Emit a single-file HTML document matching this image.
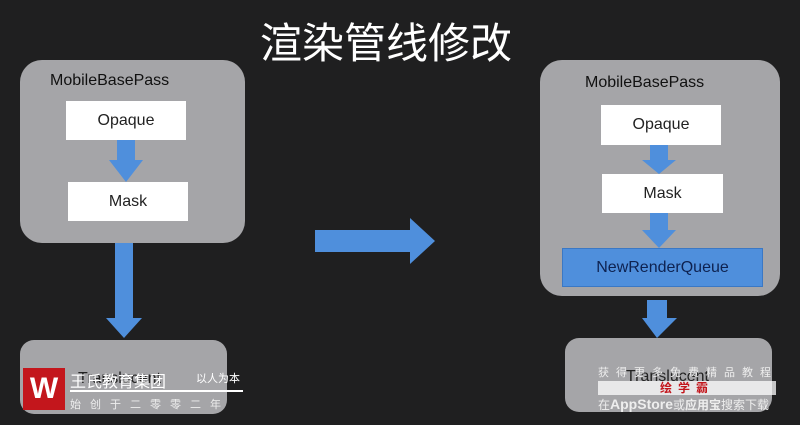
<!DOCTYPE html>
<html><head><meta charset="utf-8"><style>
body{margin:0;width:800px;height:425px;background:#1f1f20;position:relative;overflow:hidden;font-family:"Liberation Sans","Noto Sans CJK SC",sans-serif}
.a{position:absolute;box-sizing:border-box}
.grp{background:#a5a5a8;border-radius:22px}
.w{background:#fff;color:#222;font-size:16px;display:flex;align-items:center;justify-content:center}
.lbl{font-size:16px;color:#111}
</style></head><body>
<div class="a" style="left:260px;top:10px;color:#fff;font-size:42px;font-family:'Noto Sans CJK SC',sans-serif;white-space:nowrap">渲染管线修改</div>

<div class="a grp" style="left:20px;top:60px;width:225px;height:183px"></div>
<div class="a lbl" style="left:50px;top:72px">MobileBasePass</div>
<div class="a w" style="left:66px;top:101px;width:120px;height:39px">Opaque</div>
<div class="a w" style="left:68px;top:182px;width:120px;height:39px">Mask</div>

<div class="a grp" style="left:20px;top:340px;width:207px;height:74px;border-radius:14px"></div>
<div class="a lbl" style="left:78px;top:370px;color:#222">Translucent</div>

<div class="a grp" style="left:540px;top:60px;width:240px;height:236px"></div>
<div class="a lbl" style="left:585px;top:74px">MobileBasePass</div>
<div class="a w" style="left:601px;top:105px;width:120px;height:40px">Opaque</div>
<div class="a w" style="left:602px;top:174px;width:121px;height:39px">Mask</div>
<div class="a" style="left:562px;top:248px;width:201px;height:39px;background:#4f8fdc;border:1px solid #3a78c5;color:#0e2250;font-size:16px;display:flex;align-items:center;justify-content:center">NewRenderQueue</div>

<div class="a grp" style="left:565px;top:338px;width:207px;height:74px;border-radius:14px"></div>
<div class="a lbl" style="left:626px;top:368px;color:#222">Translucent</div>

<svg class="a" style="left:0;top:0" width="800" height="425">
<g fill="#4f8fdc">
<polygon points="117,140 135,140 135,160 143,160 126,182 109,160 117,160"/>
<polygon points="115,243 133,243 133,318 142,318 124,338 106,318 115,318"/>
<polygon points="315,230 410,230 410,218 435,241 410,264 410,252 315,252"/>
<polygon points="650,145 668,145 668,160 676,160 659,174 642,160 650,160"/>
<polygon points="650,213 668,213 668,230 676,230 659,248 642,230 650,230"/>
<polygon points="647,300 667,300 667,318 677,318 657,338 642,318 647,318"/>
</g>
</svg>

<div class="a" style="left:23px;top:368px;width:42px;height:42px;background:#c3161c;color:#fff;font-weight:bold;font-size:30px;display:flex;align-items:center;justify-content:center">W</div>
<div class="a" style="left:70px;top:368px;color:#fff;font-size:16px">王氏教育集团</div>
<div class="a" style="left:196px;top:370px;color:#fff;font-size:11px">以人为本</div>
<div class="a" style="left:70px;top:390px;width:173px;height:2px;background:#fff"></div>
<div class="a" style="left:70px;top:396px;color:#eee;font-size:11px;letter-spacing:9px">始创于二零零二年</div>

<div class="a" style="left:598px;top:364px;color:#eee;font-size:11px;letter-spacing:7px">获得更多免费精品教程</div>
<div class="a" style="left:598px;top:381px;width:178px;height:14px;background:rgba(255,255,255,.75);color:#c3161c;font-size:12px;font-weight:bold;text-align:center;letter-spacing:6px;line-height:14px">绘学霸</div>
<div class="a" style="left:598px;top:396px;color:#eee;font-size:12px">在<b style="font-size:14px">AppStore</b>或<b>应用宝</b>搜索下载</div>
</body></html>
